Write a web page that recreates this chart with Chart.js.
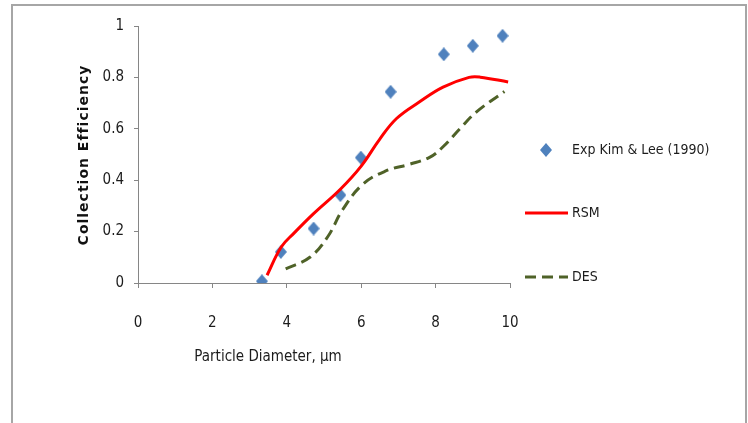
<!DOCTYPE html>
<html>
<head>
<meta charset="utf-8">
<script src="https://cdn.jsdelivr.net/npm/chart.js@4/dist/chart.umd.min.js"></script>
<style>
  body { margin: 0; background: #fff; }
  canvas { display: block; }
</style>
</head>
<body>
<canvas id="effChart" width="748" height="423"></canvas>
<script>
// Experimental points (Kim & Lee, 1990)
const expDiameter = [3.33, 3.84, 4.72, 5.44, 5.99, 6.79, 8.22, 9.0, 9.8];
const expEfficiency = [0.007, 0.121, 0.212, 0.342, 0.488, 0.744, 0.89, 0.923, 0.962];

// RSM model curve
const rsmDiameter = [3.47, 3.85, 4.2, 4.72, 5.44, 6.0, 6.5, 6.95, 7.57, 8.2, 8.9, 9.2, 9.95];
const rsmEfficiency = [0.03, 0.14, 0.195, 0.27, 0.365, 0.455, 0.56, 0.64, 0.705, 0.762, 0.8, 0.801, 0.782];

// DES model curve
const desDiameter = [3.97, 4.62, 5.1, 5.5, 6.05, 6.68, 7.3, 7.85, 8.2, 8.65, 9.1, 9.85];
const desEfficiency = [0.055, 0.1, 0.18, 0.285, 0.385, 0.437, 0.462, 0.49, 0.53, 0.6, 0.666, 0.745];

const xTicks = [0, 2, 4, 6, 8, 10];
const yTicks = [0, 0.2, 0.4, 0.6, 0.8, 1];

const seriesLabels = ['Exp Kim & Lee (1990)', 'RSM', 'DES'];
const xTitle = 'Particle Diameter, \u00b5m';
const yTitle = 'Collection Efficiency';

const FONT = '"Liberation Sans Narrow", "DejaVu Sans Condensed", sans-serif';
const TEXT = '#1c1c1c';
const AXIS = '#868686';
const BLUE = '#4F81BD';
const RED = '#FF0000';
const OLIVE = '#4F6228';

const toPoints = (xs, ys) => xs.map((x, i) => ({ x: x, y: ys[i] }));

// narrow diamond marker
function makeDiamond(w, h, color) {
    const c = document.createElement('canvas');
    c.width = w;
    c.height = h;
    const g = c.getContext('2d');
    g.fillStyle = color;
    g.beginPath();
    g.moveTo(w / 2, 0);
    g.lineTo(w, h / 2);
    g.lineTo(w / 2, h);
    g.lineTo(0, h / 2);
    g.closePath();
    g.fill();
    return c;
}
const diamond = makeDiamond(12, 14, BLUE);

// outer frame and axis titles
const framePlugin = {
    id: 'frame',
    beforeDraw(chart) {
        const ctx = chart.ctx;
        ctx.save();
        ctx.fillStyle = '#fff';
        ctx.fillRect(0, 0, chart.width, chart.height);
        ctx.strokeStyle = '#a6a6a6';
        ctx.lineWidth = 2;
        ctx.beginPath();
        ctx.moveTo(12, chart.height);
        ctx.lineTo(12, 5);
        ctx.lineTo(746, 5);
        ctx.lineTo(746, chart.height);
        ctx.stroke();
        ctx.restore();
    },
    afterDraw(chart) {
        const ctx = chart.ctx;
        ctx.save();
        ctx.fillStyle = TEXT;
        ctx.font = '15px ' + FONT;
        ctx.textAlign = 'center';
        ctx.textBaseline = 'middle';
        ctx.fillText(xTitle, 268, 357);

        ctx.translate(84, 155);
        ctx.rotate(-Math.PI / 2);
        ctx.font = 'bold 14px "DejaVu Sans", sans-serif';
        ctx.letterSpacing = '1px';
        ctx.fillStyle = '#111';
        ctx.fillText(yTitle, 0, 0);
        ctx.restore();
    }
};

// legend on the right, built from the dataset styles
const legendPlugin = {
    id: 'sideLegend',
    afterDraw(chart) {
        const ctx = chart.ctx;
        const ds = chart.data.datasets;
        const rows = [150, 213, 277];
        ctx.save();
        ctx.font = '14px ' + FONT;
        ctx.fillStyle = TEXT;
        ctx.textBaseline = 'middle';
        ctx.textAlign = 'left';

        ctx.drawImage(diamond, 546 - diamond.width / 2, rows[0] - diamond.height / 2);
        ctx.fillText(ds[0].label, 572, rows[0]);

        [1, 2].forEach(i => {
            ctx.strokeStyle = ds[i].borderColor;
            ctx.lineWidth = ds[i].borderWidth;
            ctx.setLineDash(ds[i].borderDash || []);
            ctx.beginPath();
            ctx.moveTo(525, rows[i]);
            ctx.lineTo(568, rows[i]);
            ctx.stroke();
            ctx.fillText(ds[i].label, 572, rows[i]);
        });
        ctx.restore();
    }
};

new Chart(document.getElementById('effChart'), {
    type: 'scatter',
    data: {
        datasets: [{
            label: seriesLabels[0],
            data: toPoints(expDiameter, expEfficiency),
            pointStyle: diamond,
            pointRadius: 7,
            backgroundColor: BLUE,
            borderColor: BLUE,
            showLine: false,
            order: 3
        }, {
            label: seriesLabels[1],
            data: toPoints(rsmDiameter, rsmEfficiency),
            showLine: true,
            borderColor: RED,
            borderWidth: 3,
            pointRadius: 0,
            tension: 0.4,
            order: 2
        }, {
            label: seriesLabels[2],
            data: toPoints(desDiameter, desEfficiency),
            showLine: true,
            borderColor: OLIVE,
            borderWidth: 3,
            borderDash: [11, 6],
            pointRadius: 0,
            tension: 0.4,
            order: 1
        }]
    },
    options: {
        responsive: false,
        animation: false,
        layout: { padding: { left: 0, right: 238, top: 26, bottom: 0 } },
        plugins: {
            legend: { display: false },
            tooltip: { enabled: false }
        },
        scales: {
            x: {
                type: 'linear',
                min: 0,
                max: 10,
                afterFit: s => { s.height = 140; },
                afterBuildTicks: s => { s.ticks = xTicks.map(v => ({ value: v })); },
                grid: { drawOnChartArea: false, drawTicks: true, tickLength: 5, color: AXIS },
                border: { color: AXIS, width: 1 },
                ticks: { color: TEXT, font: { family: FONT, size: 15 }, padding: 26 }
            },
            y: {
                min: 0,
                max: 1,
                afterFit: s => { s.width = 138; },
                afterBuildTicks: s => { s.ticks = yTicks.map(v => ({ value: v })); },
                grid: { drawOnChartArea: false, drawTicks: true, tickLength: 4, color: AXIS },
                border: { color: AXIS, width: 1 },
                ticks: {
                    color: TEXT,
                    font: { family: FONT, size: 15 },
                    padding: 10,
                    callback: v => String(v)
                }
            }
        }
    },
    plugins: [framePlugin, legendPlugin]
});
</script>
</body>
</html>
